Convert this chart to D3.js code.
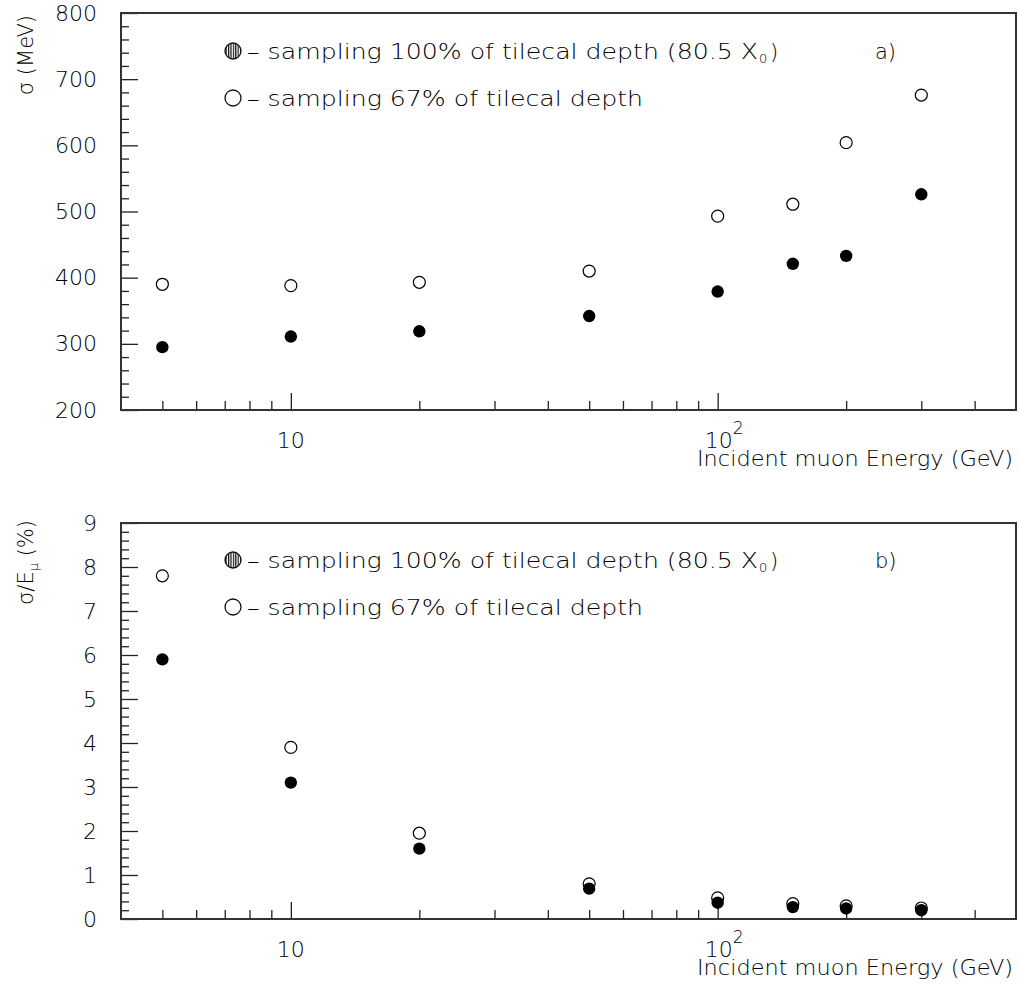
<!DOCTYPE html>
<html>
<head>
<meta charset="utf-8">
<script src="https://cdn.jsdelivr.net/npm/d3@7"></script>
<style>
  body { margin: 0; background: #fff; }
  svg text { font-family: "DejaVu Sans", "Liberation Sans", sans-serif; font-weight: 200; fill: #000; }
</style>
</head>
<body>
<svg id="chart" width="1019" height="989"></svg>
<script>
// incident muon energies (GeV)
const energies = [5, 10, 20, 50, 100, 150, 200, 300];
// sigma (MeV)
const sigmaFull = [295, 311, 319, 342, 379, 421, 433, 526];
const sigmaPart = [390, 388, 393, 410, 493, 511, 604, 676];
// sigma / E (%)
const relFull = [5.9, 3.1, 1.6, 0.69, 0.37, 0.27, 0.24, 0.2];
const relPart = [7.8, 3.9, 1.95, 0.8, 0.48, 0.35, 0.3, 0.25];

const xMajor = [10, 100];
const xMinor = [5, 6, 7, 8, 9, 20, 30, 40, 50, 60, 70, 80, 90, 200, 300, 400];
const topTicks = [200, 300, 400, 500, 600, 700, 800];
const botTicks = [0, 1, 2, 3, 4, 5, 6, 7, 8, 9];

const legendFull = "– sampling 100% of tilecal depth (80.5 X";
const legendPart = "– sampling 67% of tilecal depth";

const svg = d3.select("#chart");
const defs = svg.append("defs");
const pat = defs.append("pattern").attr("id", "vhatch").attr("patternUnits", "userSpaceOnUse")
  .attr("width", 2.4).attr("height", 4);
pat.append("rect").attr("width", 2.4).attr("height", 4).attr("fill", "#fff");
pat.append("rect").attr("width", 1.2).attr("height", 4).attr("fill", "#111");

const x = d3.scaleLog().domain([4, 500]).range([121, 1016]);

function panel(opts) {
  const { y, ticks, minorStep, full, part, label, tag, legY } = opts;
  const g = svg.append("g");
  const [y0, y1] = y.range();

  // minor & major ticks on x
  g.append("g").attr("transform", `translate(0,${y0})`)
    .call(d3.axisBottom(x).tickValues(xMinor).tickSize(-9).tickFormat(""))
    .call(s => s.select(".domain").remove());
  g.append("g").attr("transform", `translate(0,${y0})`)
    .call(d3.axisBottom(x).tickValues(xMajor).tickSize(-17).tickFormat(""))
    .call(s => s.select(".domain").remove());

  // y ticks
  const [lo, hi] = y.domain();
  const minors = d3.range(lo, hi + minorStep / 2, minorStep).filter(v => !ticks.includes(+v.toFixed(6)));
  g.append("g").attr("transform", "translate(121,0)")
    .call(d3.axisLeft(y).tickValues(minors).tickSize(-8).tickFormat(""))
    .call(s => s.select(".domain").remove());
  g.append("g").attr("transform", "translate(121,0)")
    .call(d3.axisLeft(y).tickValues(ticks).tickSize(-17).tickPadding(24).tickFormat(d3.format("d")))
    .call(s => s.select(".domain").remove())
    .call(s => s.selectAll("text").attr("font-size", 22).attr("fill", "#000"));

  g.selectAll(".tick line").attr("stroke", "#222").attr("stroke-width", 1.3);

  // frame
  g.append("rect").attr("x", 121).attr("y", y1).attr("width", 1016 - 121).attr("height", y0 - y1)
    .attr("fill", "none").attr("stroke", "#333").attr("stroke-width", 2);

  // x tick labels
  g.append("text").attr("x", x(10)).attr("y", y0 + 38).attr("text-anchor", "middle")
    .attr("font-size", 22).text("10");
  const t2 = g.append("text").attr("x", x(100) - 13).attr("y", y0 + 38).attr("font-size", 22);
  t2.append("tspan").text("10");
  t2.append("tspan").attr("dy", -14).attr("font-size", 17).text("2");
  g.append("text").attr("x", 1013).attr("y", y0 + 56).attr("text-anchor", "end")
    .attr("font-size", 21).attr("textLength", 316).attr("lengthAdjust", "spacingAndGlyphs")
    .text("Incident muon Energy (GeV)");

  // y label
  label(g.append("text").attr("transform", `translate(33,${opts.labelEnd}) rotate(-90)`)
    .attr("text-anchor", "end").attr("font-size", 21));

  // legend
  g.append("circle").attr("cx", 233).attr("cy", legY).attr("r", 8)
    .attr("fill", "url(#vhatch)").attr("stroke", "#111").attr("stroke-width", 1.3);
  g.append("text").attr("x", 247).attr("y", legY + 8).attr("font-size", 21)
    .attr("textLength", 511).attr("lengthAdjust", "spacingAndGlyphs").text(legendFull);
  g.append("text").attr("x", 759).attr("y", legY + 12).attr("font-size", 13).text("0");
  g.append("text").attr("x", 770).attr("y", legY + 8).attr("font-size", 21).text(")");
  g.append("circle").attr("cx", 233).attr("cy", legY + 47).attr("r", 8)
    .attr("fill", "none").attr("stroke", "#111").attr("stroke-width", 1.3);
  g.append("text").attr("x", 247).attr("y", legY + 55).attr("font-size", 21)
    .attr("textLength", 396).attr("lengthAdjust", "spacingAndGlyphs").text(legendPart);
  g.append("text").attr("x", 875).attr("y", legY + 8).attr("font-size", 21).text(tag);

  // points
  g.selectAll(".open").data(energies).join("circle").attr("class", "open")
    .attr("cx", d => x(d)).attr("cy", (d, i) => y(part[i])).attr("r", 6)
    .attr("fill", "#fff").attr("stroke", "#000").attr("stroke-width", 1.2);
  g.selectAll(".full").data(energies).join("circle").attr("class", "full")
    .attr("cx", d => x(d)).attr("cy", (d, i) => y(full[i])).attr("r", 6.2)
    .attr("fill", "#000");
}

panel({
  y: d3.scaleLinear().domain([200, 800]).range([410, 13]),
  ticks: topTicks, minorStep: 20, full: sigmaFull, part: sigmaPart,
  tag: "a)", legY: 51, labelEnd: 15,
  label: t => t.text("σ (MeV)")
});

panel({
  y: d3.scaleLinear().domain([0, 9]).range([919, 523]),
  ticks: botTicks, minorStep: 0.2, full: relFull, part: relPart,
  tag: "b)", legY: 560, labelEnd: 520,
  label: t => {
    t.append("tspan").text("σ/E");
    t.append("tspan").attr("dy", 5).attr("font-size", 13).text("μ");
    t.append("tspan").attr("dy", -5).text(" (%)");
  }
});
</script>
</body>
</html>
